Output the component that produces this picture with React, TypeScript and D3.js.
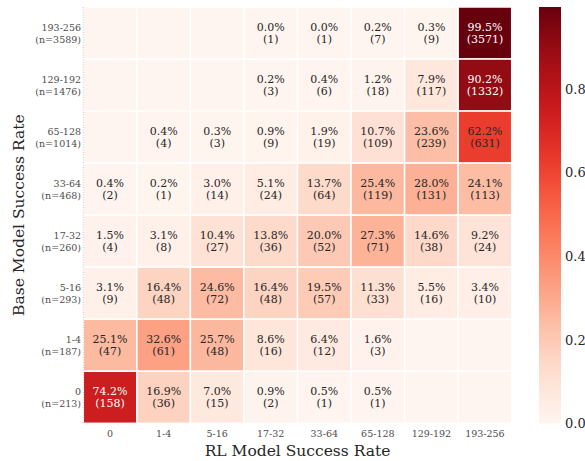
import React from "react";
import * as d3 from "d3";

const rlBins = ["0", "1-4", "5-16", "17-32", "33-64", "65-128", "129-192", "193-256"];
const baseBins = ["193-256", "129-192", "65-128", "33-64", "17-32", "5-16", "1-4", "0"];
const rowTotals = [3589, 1476, 1014, 468, 260, 293, 187, 213];
const counts: (number | null)[][] = [
  [null, null, null, 1, 1, 7, 9, 3571],
  [null, null, null, 3, 6, 18, 117, 1332],
  [null, 4, 3, 9, 19, 109, 239, 631],
  [2, 1, 14, 24, 64, 119, 131, 113],
  [4, 8, 27, 36, 52, 71, 38, 24],
  [9, 48, 72, 48, 57, 33, 16, 10],
  [47, 61, 48, 16, 12, 3, null, null],
  [158, 36, 15, 2, 1, 1, null, null],
];
const colorTicks = [0, 0.2, 0.4, 0.6, 0.8];

const W = 585, H = 461;
const left = 83.3, right = 511.7, top = 7, bottom = 423.3;
const cbL = 539, cbR = 561;
const FONT = "'DejaVu Serif', serif";

export default function App() {
  const x = d3.scaleBand<string>().domain(rlBins).range([left, right]);
  const y = d3.scaleBand<string>().domain(baseBins).range([top, bottom]);
  const fracs = counts.map((row, i) => row.map((c) => (c == null ? null : c / rowTotals[i])));
  const vmax = d3.max(fracs.flat().filter((v) => v != null) as number[]) as number;
  const color = d3.scaleSequential(d3.interpolateReds).domain([0, vmax]);
  const cy = d3.scaleLinear().domain([0, vmax]).range([bottom, top]);
  const stops = d3.range(0, 1.0001, 0.05);

  return (
    <svg width={W} height={H} style={{ position: "absolute", left: 0, top: 0, background: "white" }}>
      <defs>
        <linearGradient id="cbar" x1="0" y1="1" x2="0" y2="0">
          {stops.map((s) => (
            <stop key={s} offset={s} stopColor={color(s * vmax)} />
          ))}
        </linearGradient>
      </defs>
      {fracs.map((row, i) =>
        row.map((v, j) => {
          const cx = x(rlBins[j])!, yy = y(baseBins[i])!;
          const fill = color(v == null ? 0 : v);
          const txtColor = v != null && v > 0.7 ? "white" : "#262626";
          return (
            <g key={`${i}-${j}`}>
              <rect x={cx} y={yy} width={x.bandwidth()} height={y.bandwidth()} fill={fill} stroke="white" strokeWidth={1.5} />
              {v != null && (
                <text fontFamily={FONT} fontSize={11} fill={txtColor} textAnchor="middle">
                  <tspan x={cx + x.bandwidth() / 2} y={yy + y.bandwidth() / 2 - 2}>{(v * 100).toFixed(1)}%</tspan>
                  <tspan x={cx + x.bandwidth() / 2} y={yy + y.bandwidth() / 2 + 10}>({counts[i][j]})</tspan>
                </text>
              )}
            </g>
          );
        })
      )}
      <line x1={left} x2={left} y1={top} y2={bottom} stroke="#bbb" strokeWidth={0.8} strokeDasharray="1,1.5" />
      {rlBins.map((b) => (
        <text key={b} x={x(b)! + x.bandwidth() / 2} y={437} fontFamily={FONT} fontSize={9.5} fill="#4d4d4d" textAnchor="middle">{b}</text>
      ))}
      {baseBins.map((b, i) => (
        <text key={b} fontFamily={FONT} fontSize={9.5} fill="#4d4d4d" textAnchor="end">
          <tspan x={81} y={y(b)! + y.bandwidth() / 2 - 2}>{b}</tspan>
          <tspan x={81} y={y(b)! + y.bandwidth() / 2 + 10}>(n={rowTotals[i]})</tspan>
        </text>
      ))}
      <text x={(left + right) / 2} y={456} fontFamily={FONT} fontSize={15.5} fill="#262626" textAnchor="middle">RL Model Success Rate</text>
      <text transform={`translate(24,${(top + bottom) / 2}) rotate(-90)`} fontFamily={FONT} fontSize={15.5} fill="#262626" textAnchor="middle">Base Model Success Rate</text>
      <rect x={cbL} y={top} width={cbR - cbL} height={bottom - top} fill="url(#cbar)" />
      {colorTicks.map((t) => (
        <text key={t} x={cbR + 4} y={cy(t) + 5} fontFamily={FONT} fontSize={13} fill="#262626">{t.toFixed(1)}</text>
      ))}
    </svg>
  );
}
